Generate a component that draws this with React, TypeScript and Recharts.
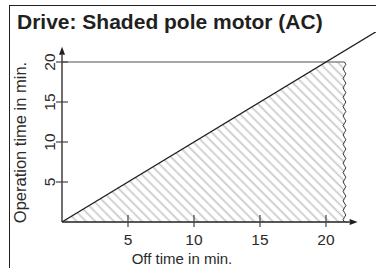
import React from 'react';
import { ComposedChart, Area, Line, XAxis, YAxis, ReferenceLine } from 'recharts';

// off time (x) vs operation time (y), minutes
const zoneOffTime = [0, 20, 21.4];
const zoneOpTime = [0, 20, 20];
const diagOffTime = [0, 23.8];
const diagOpTime = [0, 23.8];
const maxOpTime = 20;
const breakOffTime = 21.4;
const xAxisEnd = 22.4;
const yAxisEnd = 21.9;
const xTicks = [5, 10, 15, 20];
const yTicks = [5, 10, 15, 20];

const zoneData = zoneOffTime.map((x, i) => ({ x, y: zoneOpTime[i] }));
const diagData = diagOffTime.map((x, i) => ({ x, y: diagOpTime[i] }));

const FONT = '"Liberation Sans", Arial, Helvetica, sans-serif';
const INK = '#231f20';
const TEXT = '#2a2a2a';

const XTick = ({ x, y, payload }: any) => (
  <g>
    <line x1={x} x2={x} y1={y - 7} y2={y + 5} stroke="#444" strokeWidth={1.2} />
    <text x={x} y={y + 23} textAnchor="middle" fontSize={15.5} fontFamily={FONT} fill={TEXT}>
      {payload.value}
    </text>
  </g>
);

const YTick = ({ x, y, payload }: any) => (
  <g>
    <line x1={x - 6} x2={x + 6} y1={y} y2={y} stroke="#444" strokeWidth={1.2} />
    <text
      x={x - 13}
      y={y}
      transform={`rotate(-90, ${x - 13}, ${y})`}
      textAnchor="middle"
      dominantBaseline="central"
      fontSize={15.5}
      fontFamily={FONT}
      fill={TEXT}
    >
      {payload.value}
    </text>
  </g>
);

const XLabel = ({ viewBox }: any) => (
  <text x={viewBox.x + 120} y={viewBox.y + 42} textAnchor="middle" fontSize={15} fontFamily={FONT} fill={TEXT}>
    Off time in min.
  </text>
);

const YLabel = ({ viewBox }: any) => {
  const cx = viewBox.x + 17.5;
  const cy = viewBox.y + 110.5;
  return (
    <text
      x={cx}
      y={cy}
      transform={`rotate(-90, ${cx}, ${cy})`}
      textAnchor="middle"
      dominantBaseline="central"
      fontSize={16.5}
      fontFamily={FONT}
      fill={TEXT}
    >
      Operation time in min.
    </text>
  );
};

// axis line ending in a filled arrow head
const ArrowLine = ({ x1, y1, x2, y2 }: any) => {
  const len = Math.hypot(x2 - x1, y2 - y1) || 1;
  const ux = (x2 - x1) / len;
  const uy = (y2 - y1) / len;
  const bx = x2 - ux * 8;
  const by = y2 - uy * 8;
  const pts = `${x2},${y2} ${bx - uy * 3},${by + ux * 3} ${bx + uy * 3},${by - ux * 3}`;
  return (
    <g>
      <line x1={x1} y1={y1} x2={bx} y2={by} stroke={INK} strokeWidth={1.3} />
      <polygon points={pts} fill={INK} />
    </g>
  );
};

// break mark on the right edge of the zone
const WavyLine = ({ x1, y1, x2, y2 }: any) => {
  const len = Math.abs(y2 - y1);
  const n = Math.max(2, Math.round(len / 4.7));
  const step = (y2 - y1) / n;
  let d = `M${x1},${y1}`;
  for (let i = 0; i < n; i++) {
    const side = i % 2 === 0 ? 2.8 : -2.8;
    d += ` Q${x1 + side},${y1 + step * (i + 0.5)} ${x1},${y1 + step * (i + 1)}`;
  }
  return <path d={d} fill="none" stroke="#333" strokeWidth={1} />;
};

const App = () => {
  return (
    <div style={{ position: 'absolute', left: 0, top: 0, width: 376, height: 268, background: '#fff', overflow: 'hidden' }}>
      <div
        style={{
          position: 'absolute',
          left: 9,
          top: 5,
          width: 367,
          height: 263,
          borderTop: `1.5px solid ${INK}`,
          borderLeft: `1.5px solid ${INK}`,
          boxSizing: 'border-box',
        }}
      />
      <div
        style={{
          position: 'absolute',
          left: 17,
          top: 10.5,
          fontFamily: FONT,
          fontWeight: 700,
          fontSize: 21,
          lineHeight: '21px',
          color: INK,
          whiteSpace: 'nowrap',
        }}
      >
        Drive: Shaded pole motor (AC)
      </div>
      <div style={{ position: 'absolute', left: 0, top: 0 }}>
        <ComposedChart width={376} height={268} margin={{ top: 32, right: 0, bottom: 0, left: 2 }}>
          <defs>
            <pattern id="hatch" patternUnits="userSpaceOnUse" width={6.6} height={6.6} patternTransform="rotate(-45)">
              <line x1={3.3} y1={0} x2={3.3} y2={6.6} stroke="#c6c6c6" strokeWidth={1.6} />
            </pattern>
          </defs>
          <XAxis
            dataKey="x"
            type="number"
            domain={[0, 23.79]}
            ticks={xTicks}
            interval={0}
            axisLine={false}
            tickLine={false}
            tickSize={0}
            tickMargin={0}
            height={46}
            tick={<XTick />}
            label={<XLabel />}
            allowDataOverflow
          />
          <YAxis
            dataKey="y"
            type="number"
            domain={[0, 23.75]}
            ticks={yTicks}
            interval={0}
            axisLine={false}
            tickLine={false}
            tickSize={0}
            tickMargin={0}
            width={60}
            tick={<YTick />}
            label={<YLabel />}
            allowDataOverflow
          />
          <Area
            data={zoneData}
            dataKey="y"
            type="linear"
            stroke="none"
            fill="url(#hatch)"
            fillOpacity={1}
            dot={false}
            activeDot={false}
            isAnimationActive={false}
          />
          <ReferenceLine
            segment={[{ x: 0, y: maxOpTime }, { x: breakOffTime, y: maxOpTime }]}
            stroke="#8a8a8a"
            strokeWidth={1.6}
          />
          <ReferenceLine
            segment={[{ x: breakOffTime, y: maxOpTime }, { x: breakOffTime, y: 0 }]}
            shape={<WavyLine />}
          />
          <ReferenceLine segment={[{ x: 0, y: 0 }, { x: xAxisEnd, y: 0 }]} shape={<ArrowLine />} />
          <ReferenceLine segment={[{ x: 0, y: 0 }, { x: 0, y: yAxisEnd }]} shape={<ArrowLine />} />
          <Line
            data={diagData}
            dataKey="y"
            type="linear"
            stroke={INK}
            strokeWidth={1.2}
            dot={false}
            activeDot={false}
            isAnimationActive={false}
          />
        </ComposedChart>
      </div>
    </div>
  );
};

export default App;
